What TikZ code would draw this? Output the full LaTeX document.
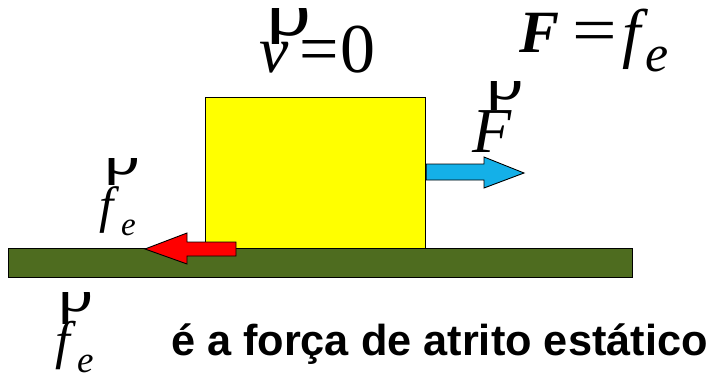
\documentclass[tikz,border=0pt]{standalone}
\usepackage{fontspec}
\setmainfont{Liberation Serif}
\newfontfamily\arialfam{Liberation Sans}
\definecolor{barGreen}{RGB}{78,108,31}
\definecolor{arrowBlue}{RGB}{20,176,232}
\definecolor{boxYellow}{RGB}{255,255,0}
\definecolor{arrowRed}{RGB}{255,0,0}
\begin{document}
\begin{tikzpicture}[x=1pt,y=-1pt,
  g/.style={inner sep=0,outer sep=0,anchor=base west},
  it/.style={g,font=\fontsize{#1}{#1}\selectfont\itshape},
  up/.style={g,font=\fontsize{#1}{#1}\selectfont},
  bi/.style={g,font=\fontsize{#1}{#1}\selectfont\bfseries\itshape},
  blockarrow/.style={draw=black,line width=0.9pt,line join=miter}]
\useasboundingbox (0,0) rectangle (708,374);
% block and ground
\node[draw=black,line width=1.2pt,fill=boxYellow,minimum width=220pt,minimum height=151pt,inner sep=0,anchor=north west] (box) at (205,97) {};
\node[draw=black,line width=1.2pt,fill=barGreen,minimum width=624pt,minimum height=29pt,inner sep=0,anchor=north west] (bar) at (8,248) {};
% arrows
\draw[blockarrow,fill=arrowBlue] (box.east|-0,164) -- (484,164) -- (484,157) -- (524,173) -- (484,188) -- (484,180) -- (box.east|-0,180) -- cycle;
\draw[blockarrow,fill=arrowRed] (236,242) -- (187,242) -- (187,233) -- (145,249) -- (187,264) -- (187,256) -- (236,256) -- cycle;
% v = 0
\begin{scope}\clip (250,9) rectangle (330,44);
\node[up=90] (r1) at (266,36) {ρ};
\end{scope}
\node[it=66] (v) at (259,73) {v};
\node[up=70] (eq1) at (299,73) {=};
\node[up=70] (zero) at (340,73) {0};
% F = f_e
\node[bi=60] (F1) at (519,53) {F};
\node[up=66] (eq2) at (572,53) {\scalebox{1.2}[1]{=}};
\node[it=66] (f1) at (622,56) {f};
\node[it=52] (e1) at (645,72) {e};
% F label
\begin{scope}\clip (470,82) rectangle (540,110);
\node[up=75] (r2) at (486,100) {ρ};
\end{scope}
\node[it=64] (F2) at (472,153) {F};
% f_e left
\begin{scope}\clip (90,158) rectangle (150,184);
\node[up=72] (r3) at (104,174) {ρ};
\end{scope}
\node[it=51] (f2) at (99,222) {f};
\node[it=33] (e2) at (121,235) {e};
% f_e bottom
\begin{scope}\clip (45,292) rectangle (100,323);
\node[up=70] (r4) at (58,311) {ρ};
\end{scope}
\node[it=53] (f3) at (55,358) {f};
\node[it=37] (e3) at (77,372) {e};
% caption
\node[g,font=\fontsize{43.3}{43.3}\selectfont\arialfam\bfseries] (cap) at (171,355) {é a força de atrito estático};
\end{tikzpicture}
\end{document}
